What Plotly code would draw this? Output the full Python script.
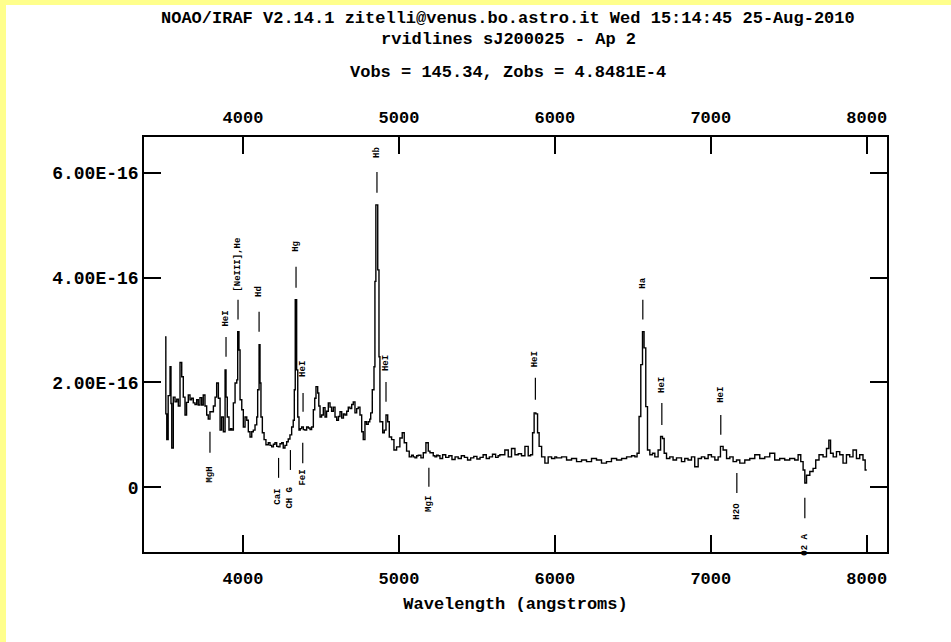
import numpy as np
import plotly.graph_objects as go

FLUX_UNIT = 1e-16

# ---------------- spectrum (wavelength in Angstrom, flux in 1e-16 units) ----------------
spec_wl = [
    3500, 3505, 3511, 3520, 3532, 3538, 3543, 3553, 3564, 3575,
    3585, 3596, 3607, 3617, 3628, 3638, 3649, 3660, 3670, 3681,
    3692, 3703, 3713, 3724, 3735, 3745, 3756, 3767, 3777, 3788,
    3799, 3810, 3821, 3831, 3842, 3853, 3863, 3874, 3885, 3891,
    3899, 3910, 3920, 3928, 3938, 3949, 3960, 3966, 3974, 3981,
    3992, 4002, 4013, 4024, 4034, 4045, 4056, 4066, 4077, 4088,
    4094, 4103, 4109, 4115, 4124, 4135, 4147, 4162, 4173, 4184,
    4195, 4205, 4216, 4226, 4237, 4248, 4258, 4269, 4280, 4290,
    4301, 4312, 4322, 4329, 4335, 4344, 4351, 4359, 4367, 4376,
    4387, 4397, 4408, 4419, 4430, 4440, 4451, 4460, 4468, 4479,
    4486, 4494, 4504, 4515, 4526, 4536, 4547, 4558, 4568, 4579,
    4590, 4601, 4612, 4622, 4633, 4644, 4654, 4665, 4675, 4686,
    4697, 4707, 4718, 4729, 4739, 4750, 4761, 4771, 4782, 4792,
    4803, 4813, 4819, 4829, 4840, 4846, 4852, 4864, 4872, 4878,
    4889, 4896, 4906, 4917, 4928, 4938, 4953, 4968, 4985, 5006,
    5021, 5034, 5049, 5066, 5081, 5092, 5103, 5114, 5124, 5141,
    5156, 5173, 5188, 5199, 5210, 5220, 5231, 5242, 5252, 5263,
    5280, 5300, 5320, 5340, 5360, 5380, 5400, 5420, 5440, 5460,
    5480, 5500, 5520, 5540, 5560, 5580, 5600, 5620, 5636, 5647,
    5679, 5701, 5722, 5744, 5765, 5786, 5808, 5829, 5844, 5857,
    5867, 5878, 5889, 5899, 5915, 5936, 5957, 5979, 6000, 6011,
    6043, 6075, 6107, 6139, 6171, 6203, 6235, 6267, 6299, 6331,
    6363, 6396, 6428, 6460, 6492, 6513, 6527, 6540, 6551, 6562,
    6572, 6583, 6594, 6609, 6626, 6641, 6662, 6678, 6690, 6701,
    6716, 6737, 6758, 6780, 6812, 6833, 6854, 6876, 6897, 6919,
    6940, 6961, 6983, 7004, 7026, 7047, 7062, 7079, 7101, 7122,
    7143, 7165, 7186, 7218, 7250, 7282, 7314, 7346, 7378, 7410,
    7442, 7474, 7506, 7538, 7560, 7577, 7592, 7603, 7614, 7635,
    7656, 7673, 7694, 7720, 7742, 7757, 7768, 7785, 7806, 7827,
    7848, 7870, 7891, 7912, 7934, 7955, 7976, 7990, 8000,
]
spec_flux = [
    2.87, 1.40, 0.91, 1.75, 2.30, 1.60, 0.75, 1.72, 1.63, 1.68,
    1.55, 2.38, 2.11, 1.72, 1.38, 1.62, 1.76, 1.67, 1.70, 1.61,
    1.58, 1.67, 1.57, 1.71, 1.57, 1.76, 1.55, 1.38, 1.30, 1.44,
    1.44, 1.55, 1.72, 1.99, 1.70, 1.09, 1.34, 1.06, 2.24, 1.72,
    1.34, 1.09, 1.12, 1.09, 1.61, 1.99, 2.05, 2.97, 2.62, 1.67,
    1.48, 1.15, 1.34, 1.28, 1.06, 0.96, 1.06, 1.09, 1.19, 1.34,
    1.86, 2.72, 1.99, 1.34, 1.04, 0.91, 0.81, 0.85, 0.80, 0.77,
    0.82, 0.85, 0.78, 0.77, 0.83, 0.85, 0.75, 0.80, 0.87, 0.92,
    1.00, 1.15, 1.28, 1.86, 3.58, 2.24, 1.34, 1.09, 1.12, 1.15,
    1.10, 1.09, 1.15, 1.13, 1.10, 1.15, 1.48, 1.70, 1.92, 1.80,
    1.55, 1.34, 1.38, 1.52, 1.34, 1.45, 1.61, 1.53, 1.45, 1.53,
    1.34, 1.28, 1.35, 1.44, 1.32, 1.40, 1.38, 1.45, 1.53, 1.50,
    1.58, 1.63, 1.42, 1.50, 1.53, 1.38, 1.06, 0.91, 1.25, 1.20,
    1.25, 1.30, 1.42, 1.86, 2.30, 3.93, 5.39, 4.15, 2.49, 1.25,
    1.25, 1.04, 1.09, 1.38, 1.25, 0.96, 0.91, 0.71, 0.77, 0.94,
    1.04, 0.85, 0.69, 0.58, 0.61, 0.58, 0.56, 0.60, 0.61, 0.56,
    0.66, 0.85, 0.69, 0.66, 0.66, 0.60, 0.58, 0.61, 0.60, 0.55,
    0.62, 0.57, 0.60, 0.53, 0.58, 0.55, 0.60, 0.57, 0.52, 0.56,
    0.59, 0.54, 0.57, 0.62, 0.55, 0.58, 0.63, 0.57, 0.60, 0.62,
    0.71, 0.58, 0.74, 0.62, 0.64, 0.60, 0.78, 0.60, 0.62, 1.04,
    1.42, 1.40, 1.04, 0.78, 0.58, 0.46, 0.58, 0.55, 0.58, 0.56,
    0.58, 0.52, 0.55, 0.49, 0.52, 0.49, 0.55, 0.52, 0.46, 0.49,
    0.55, 0.52, 0.55, 0.58, 0.60, 0.58, 0.65, 1.35, 2.34, 2.97,
    2.66, 1.54, 0.71, 0.62, 0.65, 0.58, 0.71, 0.97, 0.93, 0.65,
    0.55, 0.58, 0.52, 0.56, 0.49, 0.55, 0.52, 0.58, 0.39, 0.55,
    0.58, 0.55, 0.62, 0.58, 0.52, 0.58, 0.78, 0.71, 0.55, 0.58,
    0.49, 0.52, 0.46, 0.52, 0.55, 0.62, 0.55, 0.58, 0.65, 0.52,
    0.55, 0.52, 0.55, 0.52, 0.62, 0.49, 0.33, 0.08, 0.23, 0.30,
    0.36, 0.52, 0.62, 0.58, 0.74, 0.90, 0.65, 0.58, 0.68, 0.62,
    0.46, 0.62, 0.58, 0.71, 0.55, 0.62, 0.52, 0.33, 0.33,
]

# ---------------- identified lines ----------------
em_wl = [3891, 3968, 4103, 4340, 4385, 4859, 4917, 5875, 6564, 6686, 7064]
em_top = [2.87, 3.58, 3.35, 4.21, 1.80, 6.02, 2.01, 2.09, 3.58, 1.61, 1.38]
em_bot = [2.49, 3.20, 2.97, 3.81, 1.44, 5.62, 1.63, 1.67, 3.20, 1.19, 1.00]
em_lab_y = [3.22, 4.25, 3.73, 4.59, 2.26, 6.40, 2.37, 2.45, 3.90, 1.95, 1.76]
em_lab = ["HeI", "[NeIII],He", "Hd", "Hg", "HeI", "Hb", "HeI", "HeI", "Ha", "HeI", "HeI"]

ab_wl = [3788, 4228, 4304, 4383, 5192, 7167, 7603]
ab_top = [1.06, 0.56, 0.71, 0.85, 0.37, 0.27, -0.20]
ab_bot = [0.66, 0.18, 0.33, 0.46, 0.01, -0.11, -0.59]
ab_lab_y = [0.24, -0.19, -0.19, 0.18, -0.32, -0.45, -1.10]
ab_lab = ["MgH", "CaI", "CH G", "FeI", "MgI", "H2O", "O2 A"]

x_ticks = [4000, 5000, 6000, 7000, 8000]
y_tick_vals = [0, 2, 4, 6]
y_tick_text = ["0", "2.00E-16", "4.00E-16", "6.00E-16"]

title_lines = [
    "NOAO/IRAF V2.14.1 zitelli@venus.bo.astro.it Wed 15:14:45 25-Aug-2010",
    "rvidlines sJ200025 - Ap 2",
    "Vobs = 145.34, Zobs = 4.8481E-4",
]

FONT = "Liberation Mono"
W, H = 951, 642
L, R, T, B = 144, 64, 137, 90
PW, PH = W - L - R, H - T - B


def px_x(p):
    return (p - L) / PW


def px_y(p):
    return (H - B - p) / PH


fig = go.Figure()
fig.add_trace(go.Scatter(
    x=spec_wl, y=np.array(spec_flux) * FLUX_UNIT, mode="lines",
    line=dict(color="black", width=1.4, shape="hv"),
    hoverinfo="skip", showlegend=False,
))

mx, my = [], []
for w, t, b in zip(em_wl + ab_wl, em_top + ab_top, em_bot + ab_bot):
    mx += [w, w, None]
    my += [t * FLUX_UNIT, b * FLUX_UNIT, None]
fig.add_trace(go.Scatter(x=mx, y=my, mode="lines", line=dict(color="black", width=1.2),
                         hoverinfo="skip", showlegend=False))

# dummy trace for top axis
fig.add_trace(go.Scatter(x=[x_ticks[0]], y=[0], xaxis="x2", mode="markers",
                         marker=dict(opacity=0), hoverinfo="skip", showlegend=False))

annotations = []
for w, yy, lab in zip(em_wl + ab_wl, em_lab_y + ab_lab_y, em_lab + ab_lab):
    annotations.append(dict(x=w, y=yy * FLUX_UNIT, xref="x", yref="y", text=lab,
                            showarrow=False, textangle=-90,
                            font=dict(family=FONT, size=9, color="black", weight="bold"),
                            xanchor="center", yanchor="middle"))

for txt, py in zip(title_lines, [18, 40, 72]):
    annotations.append(dict(x=px_x(508), y=px_y(py), xref="paper", yref="paper", text=txt,
                            showarrow=False, xanchor="center", yanchor="middle",
                            font=dict(family=FONT, size=17, color="black", weight="bold")))

axis_common = dict(ticks="inside", ticklen=17, tickwidth=1.5, tickcolor="black",
                   showgrid=False, zeroline=False)

yellow = "#ffff8c"
shapes = [
    dict(type="rect", xref="paper", yref="paper", x0=px_x(0), x1=px_x(6),
         y0=px_y(H), y1=px_y(0), fillcolor=yellow, line=dict(width=0), layer="below"),
    dict(type="rect", xref="paper", yref="paper", x0=px_x(0), x1=px_x(W),
         y0=px_y(5), y1=px_y(0), fillcolor=yellow, line=dict(width=0), layer="below"),
]

fig.update_layout(
    width=W, height=H, autosize=False,
    margin=dict(l=L, r=R, t=T, b=B, pad=0),
    paper_bgcolor="white", plot_bgcolor="white",
    font=dict(family=FONT, color="black"),
    xaxis=dict(range=[3365, 8130], tickvals=x_ticks, showline=True, linewidth=1.5,
               linecolor="black", mirror=True, ticklabelstandoff=10,
               tickfont=dict(family=FONT, size=17, weight="bold"),
               title=dict(text="Wavelength (angstroms)", standoff=9,
                          font=dict(family=FONT, size=17, weight="bold")),
               **axis_common),
    xaxis2=dict(range=[3365, 8130], tickvals=x_ticks, overlaying="x", side="top",
                showline=False, ticklabelstandoff=10,
                tickfont=dict(family=FONT, size=17, weight="bold"),
                **axis_common),
    yaxis=dict(range=[-1.236e-16, 6.686e-16],
               tickvals=[v * FLUX_UNIT for v in y_tick_vals], ticktext=y_tick_text,
               showline=True, linewidth=1.5, linecolor="black", mirror="ticks",
               tickfont=dict(family=FONT, size=18, weight="bold"),
               **axis_common),
    annotations=annotations,
    shapes=shapes,
)

fig.write_html("out.html")
